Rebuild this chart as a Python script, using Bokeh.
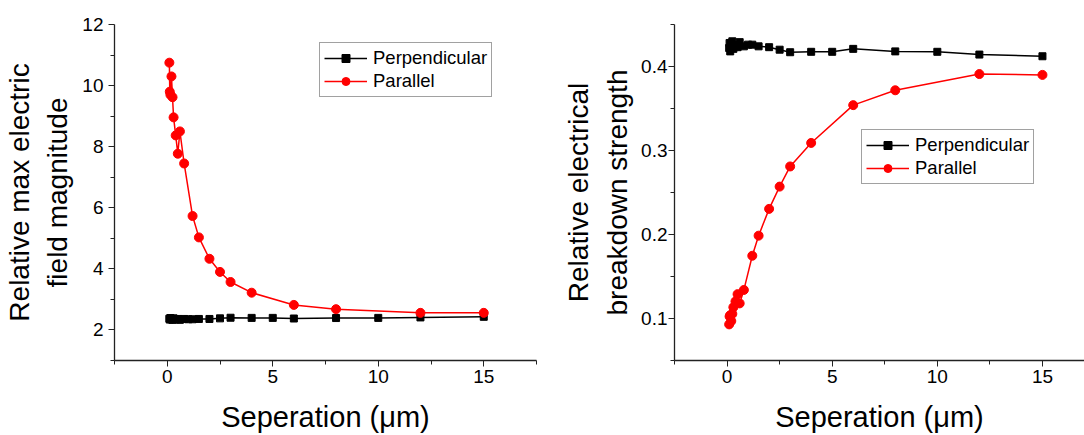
from bokeh.plotting import figure
from bokeh.layouts import row
from bokeh.models import FixedTicker, Range1d, Legend, LegendItem
from bokeh.embed import file_html
from bokeh.resources import INLINE

# ---------------- data ----------------
# Left panel: relative max electric field magnitude
x_par = [0.1, 0.12, 0.15, 0.2, 0.25, 0.3, 0.4, 0.5, 0.6, 0.8, 1.2, 1.5, 2, 2.5, 3, 4, 6, 8, 12, 15]
field_par = [10.75, 9.8, 9.7, 10.3, 9.62, 8.96, 8.37, 7.77, 8.5, 7.45, 5.73, 5.03, 4.33, 3.9, 3.57, 3.22, 2.82, 2.68, 2.56, 2.56]

x_perp = [0.1, 0.12, 0.15, 0.2, 0.25, 0.3, 0.4, 0.5, 0.6, 0.8, 1.0, 1.2, 1.5, 2, 2.5, 3, 4, 5, 6, 8, 10, 12, 15]
field_perp = [2.37, 2.34, 2.39, 2.35, 2.33, 2.38, 2.35, 2.36, 2.33, 2.36, 2.35, 2.35, 2.36, 2.36, 2.38, 2.40, 2.395, 2.395, 2.375, 2.39, 2.395, 2.41, 2.43]

# Right panel: relative electrical breakdown strength
strength_par = [0.093, 0.1025, 0.104, 0.097, 0.1055, 0.1134, 0.1204, 0.129, 0.118, 0.134, 0.1747, 0.1986, 0.2305, 0.257, 0.281, 0.309, 0.354, 0.3717, 0.391, 0.39]
strength_perp = [0.422, 0.428, 0.418, 0.425, 0.43, 0.421, 0.426, 0.423, 0.429, 0.424, 0.426, 0.426, 0.424, 0.423, 0.420, 0.417, 0.4175, 0.4175, 0.421, 0.418, 0.4175, 0.4142, 0.4122]

x_major = [0, 5, 10, 15]
x_minor = [-2.5, 2.5, 7.5, 12.5, 17.5]
left_y_major = [2, 4, 6, 8, 10, 12]
left_y_minor = [1, 3, 5, 7, 9, 11]
right_y_major = [0.1, 0.2, 0.3, 0.4]
right_y_minor = [0.05, 0.15, 0.25, 0.35, 0.45]

x_title = "Seperation (\u03bcm)"
left_y_title = "Relative max electric\nfield magnitude"
right_y_title = "Relative electrical\nbreakdown strength"
series_names = ["Perpendicular", "Parallel"]

FONT = "Liberation Sans"
AX = "#222222"


def style_axes(p, ymaj, ymin, ytitle, ylab_standoff, ytitle_standoff):
    p.xaxis.ticker = FixedTicker(ticks=x_major, minor_ticks=x_minor)
    p.yaxis.ticker = FixedTicker(ticks=ymaj, minor_ticks=ymin)
    for ax in (p.xaxis, p.yaxis):
        ax.axis_line_color = AX
        ax.axis_line_width = 1.3
        ax.major_tick_line_color = AX
        ax.minor_tick_line_color = AX
        ax.major_tick_in = 0
        ax.major_tick_out = 6
        ax.minor_tick_in = 0
        ax.minor_tick_out = 4
        ax.major_label_text_font = FONT
        ax.major_label_text_font_size = "19px"
        ax.major_label_text_color = "#000000"
        ax.axis_label_text_font = FONT
        ax.axis_label_text_font_size = "28px"
        ax.axis_label_text_font_style = "normal"
        ax.axis_label_text_color = "#000000"
    p.xaxis.axis_label = x_title
    p.xaxis.axis_label_text_font_size = "29px"
    p.xaxis.major_label_standoff = 3
    p.xaxis.axis_label_standoff = 15
    p.yaxis.axis_label = ytitle
    p.yaxis.major_label_standoff = ylab_standoff
    p.yaxis.axis_label_standoff = ytitle_standoff
    p.yaxis.axis_label_text_line_height = 1.25
    p.xgrid.visible = False
    p.ygrid.visible = False
    p.outline_line_color = None


def add_series(p, xs_perp, ys_perp, xs_par, ys_par, loc):
    l1 = p.line(xs_perp, ys_perp, line_color="black", line_width=1.5)
    m1 = p.scatter(xs_perp, ys_perp, marker="square", size=7, fill_color="black", line_color="black")
    l2 = p.line(xs_par, ys_par, line_color="red", line_width=1.5)
    m2 = p.scatter(xs_par, ys_par, marker="circle", size=9, fill_color="red", line_color="red")
    leg = Legend(items=[LegendItem(label=series_names[0], renderers=[l1, m1]),
                        LegendItem(label=series_names[1], renderers=[l2, m2])],
                 location=loc)
    leg.margin = 0
    leg.padding = 4
    leg.spacing = 1
    leg.glyph_width = 43
    leg.glyph_height = 20
    leg.label_height = 20
    leg.label_standoff = 6
    leg.label_text_font = FONT
    leg.label_text_font_size = "18.5px"
    leg.label_text_color = "black"
    leg.border_line_color = "#444444"
    leg.border_line_width = 1
    leg.background_fill_color = "white"
    leg.background_fill_alpha = 1
    p.add_layout(leg)


# ---------------- left figure ----------------
p1 = figure(width=560, height=435, output_backend="svg", toolbar_location=None,
            x_range=Range1d(-2.5, 17.5), y_range=Range1d(1, 12),
            min_border_left=112, min_border_right=24, min_border_top=20, min_border_bottom=74)
style_axes(p1, left_y_major, left_y_minor, left_y_title, 5, 6)
add_series(p1, x_perp, field_perp, x_par, field_par, (205, 263))

# ---------------- right figure ----------------
p2 = figure(width=524, height=435, output_backend="svg", toolbar_location=None,
            x_range=Range1d(-2.5, 17.0), y_range=Range1d(0.05, 0.45),
            min_border_left=113, min_border_right=0, min_border_top=24, min_border_bottom=72)
style_axes(p2, right_y_major, right_y_minor, right_y_title, 1, 5)
add_series(p2, x_perp, strength_perp, x_par, strength_par, (187, 176))

layout = row(p1, p2)
open("out.html", "w").write(file_html(layout, INLINE))
